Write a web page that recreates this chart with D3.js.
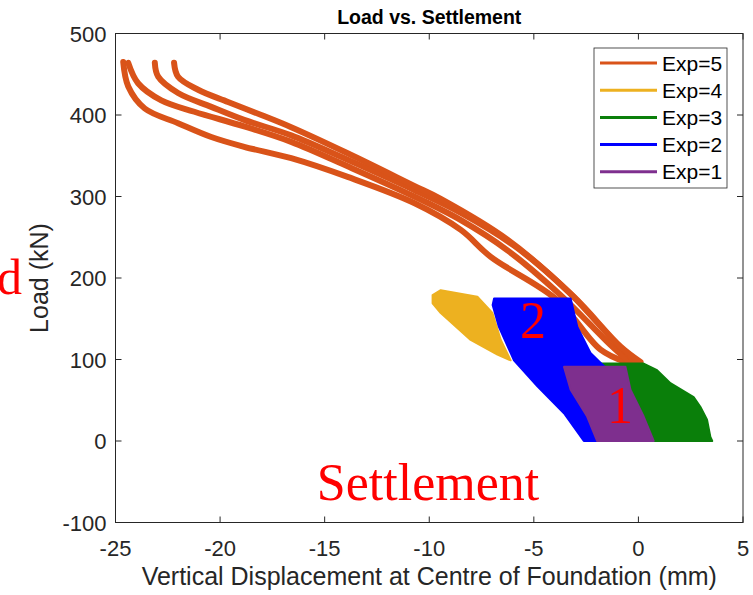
<!DOCTYPE html>
<html>
<head>
<meta charset="utf-8">
<script src="https://d3js.org/d3.v7.min.js"></script>
<style>
  body { margin: 0; background: #fff; }
  text { font-family: "Liberation Sans", Arial, sans-serif; fill: #262626; }
  .red { font-family: "Liberation Serif", "Times New Roman", serif; fill: #ff0000; }
</style>
</head>
<body>
<svg width="753" height="595"></svg>
<script>

// legend order (plotted in this order too, later ones on top)
const expLabels = ["Exp=5", "Exp=4", "Exp=3", "Exp=2", "Exp=1"];
const expColors = ["#D95319", "#EDB120", "#0A7F0A", "#0000FF", "#7E2F8E"];

const xTicks = [-25, -20, -15, -10, -5, 0, 5];
const yTicks = [-100, 0, 100, 200, 300, 400, 500];

// Exp=5: the four loading branches (displacement mm, load kN)
const exp5Branches = [
  [[-24.63, 465], [-24.39, 435], [-23.6, 408], [-22.01, 390], [-20.42, 373], [-18.85, 361], [-16.6, 347],
   [-13.9, 324], [-10.72, 292], [-8.49, 259], [-7.06, 226], [-3.88, 173], [-1.81, 112], [-0.62, 97]],
  [[-24.39, 464], [-23.92, 439], [-22.81, 418], [-21.23, 404], [-18.85, 386], [-16.6, 367], [-13.9, 337],
   [-10.72, 300], [-8.49, 271], [-6.26, 234], [-3.72, 179], [-1.34, 118], [-0.29, 94]],
  [[-23.12, 464], [-22.96, 447], [-22.01, 427], [-20.42, 410], [-18.85, 394], [-16.6, 375], [-13.9, 345],
   [-10.72, 308], [-8.49, 280], [-5.96, 240], [-3.34, 183], [-1.1, 121], [-0.1, 97]],
  [[-22.2, 464], [-22.01, 447], [-21.05, 431], [-19.62, 416], [-18.03, 400], [-16.6, 385], [-13.9, 353],
   [-10.72, 313], [-9.45, 297], [-6.26, 247], [-3.09, 177], [-0.86, 116], [0.1, 97]]
];

// Exp=4..1: outlines of the dense loop bundles
const exp4Outline = [[-9.84, 179], [-9.45, 185], [-7.7, 177], [-6.98, 157], [-6.58, 124], [-6.11, 99],
  [-6.74, 106], [-8.02, 124], [-9.45, 157], [-9.84, 169]];
const exp3Outline = [[-1.81, 95], [0.25, 95], [0.89, 87], [1.53, 71], [2.64, 54], [2.96, 42], [3.28, 26],
  [3.44, 5], [3.53, 0], [0.1, 0], [-0.86, 50], [-1.57, 90]];
const exp2Outline = [[-6.9, 175], [-3.24, 175], [-2.92, 140], [-2.29, 108], [-1.57, 90], [-1.1, 0],
  [-2.61, 0], [-3.56, 34], [-4.83, 67], [-5.95, 99], [-6.67, 140], [-6.97, 167]];
const exp1Outline = [[-3.56, 91], [-0.62, 91], [-0.38, 63], [0.25, 30], [0.73, 0], [-1.97, 0],
  [-2.45, 30], [-3.24, 63]];

const svg = d3.select("svg");
const pL = 115.5, pR = 743, pT = 33.5, pB = 522.5;

const x = d3.scaleLinear().domain([-25, 5]).range([pL, pR]);
const y = d3.scaleLinear().domain([-100, 500]).range([pB, pT]);

const line = d3.line().x(d => x(d[0])).y(d => y(d[1])).curve(d3.curveCatmullRom.alpha(0.5));
const closed = d3.line().x(d => x(d[0])).y(d => y(d[1])).curve(d3.curveLinearClosed);

// Exp=5
exp5Branches.forEach(b => {
  svg.append("path").datum(b)
    .attr("d", line)
    .attr("fill", "none")
    .attr("stroke", expColors[0])
    .attr("stroke-width", 6)
    .attr("stroke-linejoin", "round")
    .attr("stroke-linecap", "round");
});

[exp4Outline, exp3Outline, exp2Outline, exp1Outline].forEach((o, i) => {
  svg.append("path").datum(o)
    .attr("d", closed)
    .attr("fill", expColors[i + 1])
    .attr("stroke", expColors[i + 1])
    .attr("stroke-width", 2)
    .attr("stroke-linejoin", "round");
});

// axes box with inward ticks
const ax = svg.append("g");
ax.append("rect")
  .attr("x", pL).attr("y", pT)
  .attr("width", pR - pL).attr("height", pB - pT)
  .attr("fill", "none").attr("stroke", "#262626").attr("stroke-width", 1);

const tl = 6;
xTicks.forEach(t => {
  ax.append("line").attr("x1", x(t)).attr("x2", x(t)).attr("y1", pB).attr("y2", pB - tl).attr("stroke", "#262626");
  ax.append("line").attr("x1", x(t)).attr("x2", x(t)).attr("y1", pT).attr("y2", pT + tl).attr("stroke", "#262626");
  ax.append("text").attr("x", x(t)).attr("y", pB + 33)
    .attr("text-anchor", "middle").style("font-size", "22px").text(t);
});
yTicks.forEach(t => {
  ax.append("line").attr("x1", pL).attr("x2", pL + tl).attr("y1", y(t)).attr("y2", y(t)).attr("stroke", "#262626");
  ax.append("line").attr("x1", pR).attr("x2", pR - tl).attr("y1", y(t)).attr("y2", y(t)).attr("stroke", "#262626");
  ax.append("text").attr("x", pL - 9).attr("y", y(t) + 8)
    .attr("text-anchor", "end").style("font-size", "22px").text(t);
});

svg.append("text")
  .attr("x", (pL + pR) / 2).attr("y", 24)
  .attr("text-anchor", "middle")
  .style("font-size", "19.5px").style("font-weight", "bold")
  .style("fill", "#000")
  .text("Load vs. Settlement");

svg.append("text")
  .attr("x", (pL + pR) / 2).attr("y", 585)
  .attr("text-anchor", "middle")
  .style("font-size", "25px")
  .text("Vertical Displacement at Centre of Foundation (mm)");

svg.append("text")
  .attr("transform", "rotate(-90)")
  .attr("x", -(pT + pB) / 2).attr("y", 48)
  .attr("text-anchor", "middle")
  .style("font-size", "25px")
  .text("Load (kN)");

// legend
const lg = svg.append("g").attr("transform", "translate(594,48)");
lg.append("rect").attr("width", 133).attr("height", 140)
  .attr("fill", "#fff").attr("stroke", "#262626").attr("stroke-width", 0.8);
expLabels.forEach((lab, i) => {
  const yy = 15 + i * 27.2;
  lg.append("line").attr("x1", 6).attr("x2", 63).attr("y1", yy).attr("y2", yy)
    .attr("stroke", expColors[i]).attr("stroke-width", 3);
  lg.append("text").attr("x", 68).attr("y", yy + 7.5)
    .style("font-size", "21px").style("fill", "#000").text(lab);
});

// red annotations
svg.append("text").attr("class", "red").attr("x", 22).attr("y", 294)
  .attr("text-anchor", "end").style("font-size", "50px").text("d");
svg.append("text").attr("class", "red").attr("x", 533).attr("y", 338)
  .attr("text-anchor", "middle").style("font-size", "52px").text("2");
svg.append("text").attr("class", "red").attr("x", 620).attr("y", 423)
  .attr("text-anchor", "middle").style("font-size", "52px").text("1");
svg.append("text").attr("class", "red").attr("x", 428).attr("y", 500)
  .attr("text-anchor", "middle").style("font-size", "52px").text("Settlement");

</script>
</body>
</html>
